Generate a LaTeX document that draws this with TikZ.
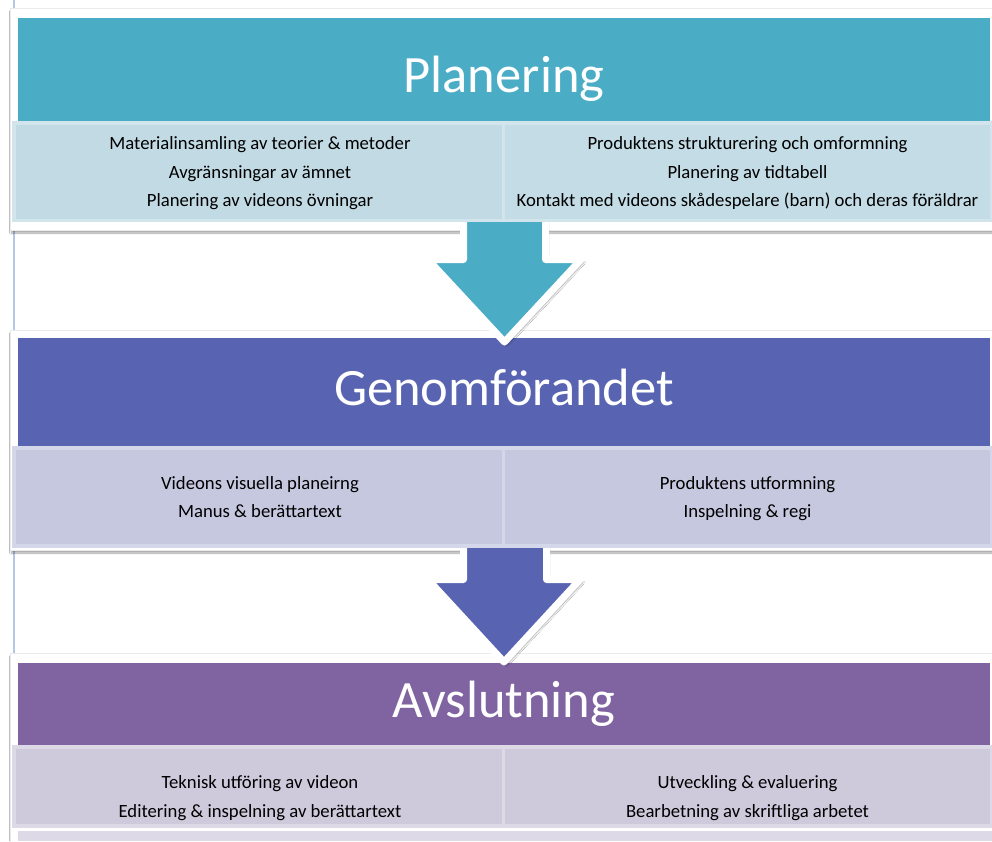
\documentclass[tikz,border=0pt]{standalone}
\usepackage{fontspec}
\setmainfont{Carlito}
\usetikzlibrary{shadows.blur}
\definecolor{hA}{HTML}{4BACC6}
\definecolor{pA}{HTML}{C2DAE4}
\definecolor{bA}{HTML}{D2E5EC}
\definecolor{hB}{HTML}{5864B1}
\definecolor{pB}{HTML}{C6C8E0}
\definecolor{bB}{HTML}{D4D6E9}
\definecolor{hC}{HTML}{8064A2}
\definecolor{pC}{HTML}{CFC9DC}
\definecolor{bC}{HTML}{DDD9E7}
\definecolor{vline}{HTML}{B4C7E7}
\tikzset{
  outerbox/.style={fill=white, draw=black!8, line width=0.6pt,
    blur shadow={shadow xshift=1.5pt, shadow yshift=-3pt, shadow opacity=35, shadow blur steps=6}},
  title/.style={text=white, font=\fontsize{52.5}{60}\selectfont, anchor=base, inner sep=0pt},
  panel/.style={line width=3.5pt},
  ptext/.style={font=\fontsize{18.7}{22}\selectfont, text=black, anchor=base, inner sep=0pt},
  blockarrow/.style={draw=white, line width=7pt, line join=round,
    blur shadow={shadow xshift=2.5pt, shadow yshift=-3pt, shadow opacity=40, shadow blur steps=6}}
}
\begin{document}
\begin{tikzpicture}[x=1pt,y=-1pt]
\useasboundingbox (0,0) rectangle (992,841);
\fill[white] (0,0) rectangle (992,841);
\draw[vline, line width=1.2pt] (14,0) -- (14,841);

% ---------- outer boxes and headers ----------
\path[outerbox] (10,8) rectangle (997,230);
\fill[hA] (18,18) rectangle (990,121.5);
\node[title] (t1) at (504,92) {Planering};

\path[outerbox] (10,330) rectangle (997,550);
\fill[hB] (18,338) rectangle (990,446);
\node[title] (t2) at (504,405) {Genomförandet};

\path[outerbox] (10,653) rectangle (997,860);
\fill[hC] (18,663) rectangle (990,745.5);
\node[title] (t3) at (504,717) {Avslutning};

% ---------- section 3 panels ----------
\draw[panel, draw=bC, fill=pC] (14,747) rectangle (503.5,826);
\draw[panel, draw=bC, fill=pC] (503.5,747) rectangle (992,826);
\fill[bC] (18,831) rectangle (992,841);
\node[ptext] (e1) at (260,788) {Teknisk utföring av videon};
\node[ptext] (e2) at (260,817) {Editering \& inspelning av berättartext};
\node[ptext] (f1) at (747.5,788) {Utveckling \& evaluering};
\node[ptext] (f2) at (747.5,817) {Bearbetning av skriftliga arbetet};

% ---------- arrows ----------
\path[blockarrow, fill=hA] (463.5,216) -- (545.5,216) -- (545.5,259.5) -- (581,259.5) -- (504.5,342) -- (428,259.5) -- (463.5,259.5) -- cycle;
\path[blockarrow, fill=hB] (463.5,541) -- (546.5,541) -- (546.5,579.5) -- (580,579.5) -- (504,662) -- (428,579.5) -- (463.5,579.5) -- cycle;

% ---------- section 1 panels ----------
\draw[panel, draw=bA, fill=pA] (14,123) rectangle (503.5,220.5);
\draw[panel, draw=bA, fill=pA!85!bA] (503.5,123) rectangle (992,220.5);
\node[ptext] (a1) at (260,149) {Materialinsamling av teorier \& metoder};
\node[ptext] (a2) at (260,178) {Avgränsningar av ämnet};
\node[ptext] (a3) at (260,206) {Planering av videons övningar};
\node[ptext] (b1) at (747.5,149) {Produktens strukturering och omformning};
\node[ptext] (b2) at (747.5,178) {Planering av tidtabell};
\node[ptext] (b3) at (747.5,206) {Kontakt med videons skådespelare (barn) och deras föräldrar};

% ---------- section 2 panels ----------
\draw[panel, draw=bB, fill=pB] (14,448) rectangle (503.5,546);
\draw[panel, draw=bB, fill=pB] (503.5,448) rectangle (992,546);
\node[ptext] (c1) at (260,489) {Videons visuella planeirng};
\node[ptext] (c2) at (260,517) {Manus \& berättartext};
\node[ptext] (d1) at (747.5,489) {Produktens utformning};
\node[ptext] (d2) at (747.5,517) {Inspelning \& regi};
\end{tikzpicture}
\end{document}
